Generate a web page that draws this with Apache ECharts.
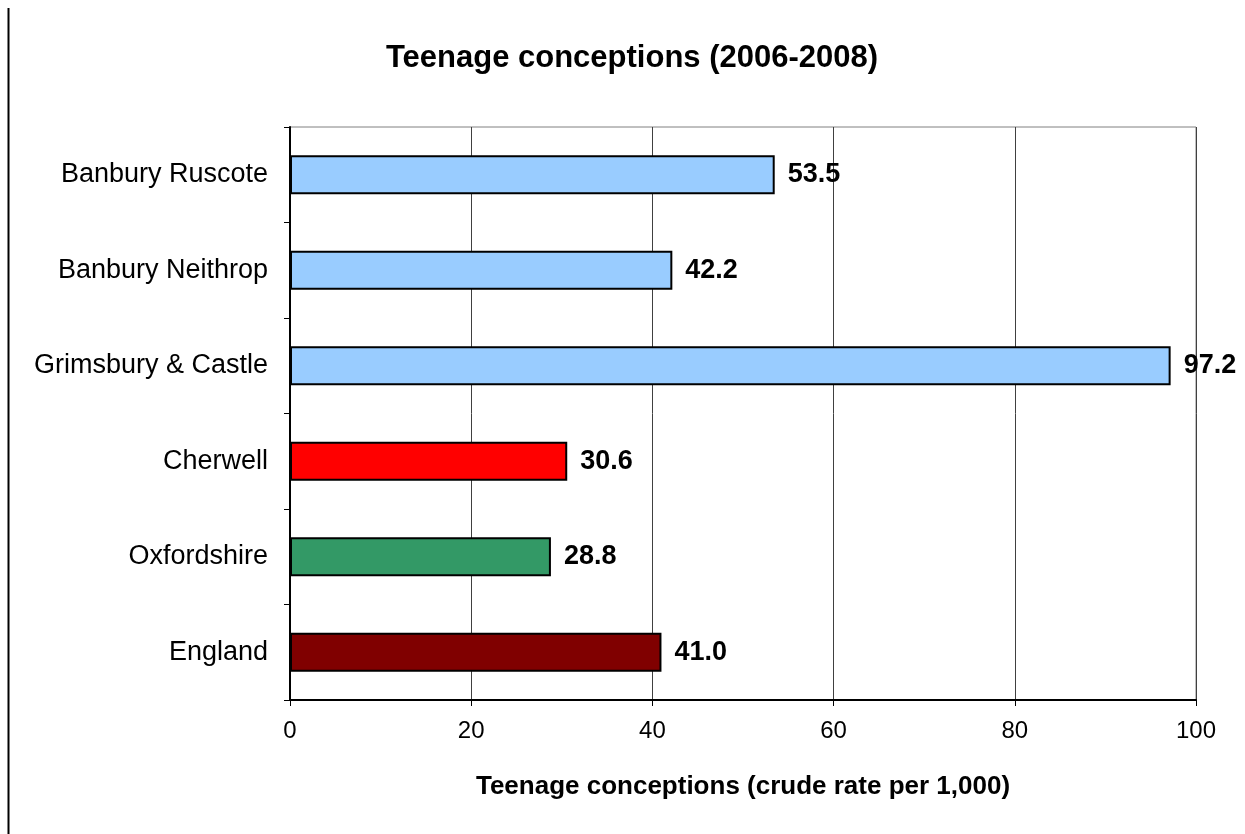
<!DOCTYPE html>
<html>
<head>
<meta charset="utf-8">
<script src="https://cdn.jsdelivr.net/npm/echarts@6/dist/echarts.min.js"></script>
<style>
  html, body { margin: 0; padding: 0; background: #fff; }
  #chart { width: 1245px; height: 834px; }
</style>
</head>
<body>
<div id="chart"></div>
<script>
const areas = ['Banbury Ruscote', 'Banbury Neithrop', 'Grimsbury & Castle', 'Cherwell', 'Oxfordshire', 'England'];
const rates = [53.5, 42.2, 97.2, 30.6, 28.8, 41.0];
const barColors = ['#99CCFF', '#99CCFF', '#99CCFF', '#FF0000', '#339966', '#800000'];

const font = '"Liberation Sans", Arial, sans-serif';

const chart = echarts.init(document.getElementById('chart'));

const option = {
    backgroundColor: '#fff',
    title: {
        text: 'Teenage conceptions (2006-2008)',
        left: 627,
        textAlign: 'center',
        top: 38,
        textStyle: { fontFamily: font, fontSize: 31, fontWeight: 'bold', color: '#000' }
    },
    grid: {
        left: 290,
        right: 49,
        top: 127,
        bottom: 134,
        show: true,
        borderColor: '#808080',
        borderWidth: 1
    },
    xAxis: {
        type: 'value',
        min: 0,
        max: 100,
        interval: 20,
        name: 'Teenage conceptions (crude rate per 1,000)',
        nameLocation: 'middle',
        nameGap: 74,
        nameTextStyle: { fontFamily: font, fontSize: 26, fontWeight: 'bold', color: '#000' },
        axisLine: { show: true, lineStyle: { color: '#000', width: 2 } },
        axisTick: { show: true, length: 6, lineStyle: { color: '#000', width: 1 } },
        axisLabel: { fontFamily: font, fontSize: 24, color: '#000', margin: 19 },
        splitLine: { show: true, lineStyle: { color: '#404040', width: 1 } }
    },
    yAxis: {
        type: 'category',
        data: areas,
        inverse: true,
        axisLine: { show: true, lineStyle: { color: '#000', width: 2 } },
        axisTick: { show: true, length: 6, lineStyle: { color: '#000', width: 1 } },
        axisLabel: { fontFamily: font, fontSize: 27, color: '#000', margin: 22 }
    },
    series: [{
        type: 'bar',
        data: rates.map((v, i) => ({ value: v, itemStyle: { color: barColors[i] } })),
        barWidth: '41%',
        itemStyle: { borderColor: '#000', borderWidth: 2 },
        label: {
            show: true,
            position: 'right',
            distance: 13,
            formatter: p => p.value.toFixed(1),
            fontFamily: font,
            fontSize: 27,
            fontWeight: 'bold',
            color: '#000'
        }
    }],
    graphic: [{
        type: 'line',
        shape: { x1: 8.5, y1: 8, x2: 8.5, y2: 834 },
        style: { stroke: '#000', lineWidth: 2 }
    }]
};

chart.setOption(option);
</script>
</body>
</html>
